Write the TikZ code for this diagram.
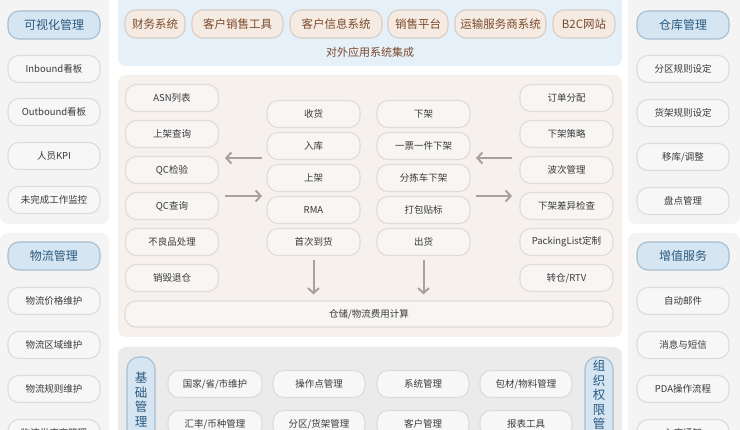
\documentclass[tikz,border=0pt]{standalone}
\usepackage{fontspec}
\setmainfont{Noto Sans CJK SC}
\usetikzlibrary{arrows.meta}
\definecolor{sidebg}{HTML}{F4F4F4}
\definecolor{topbg}{HTML}{E6F0F8}
\definecolor{mainbg}{HTML}{F6F1EC}
\definecolor{botbg}{HTML}{EBEBEB}
\definecolor{itemfill}{HTML}{F7F7F7}
\definecolor{itemdraw}{HTML}{DCDCDC}
\definecolor{mfill}{HTML}{F8F6F4}
\definecolor{mdraw}{HTML}{E0DBD6}
\definecolor{itemtext}{HTML}{3A3A3A}
\definecolor{hdrfill}{HTML}{D5E5F1}
\definecolor{hdrdraw}{HTML}{A7BDD0}
\definecolor{hdrtext}{HTML}{2C5A80}
\definecolor{extfill}{HTML}{F6EBE2}
\definecolor{extdraw}{HTML}{D6CDC5}
\definecolor{exttext}{HTML}{7A4A2C}
\definecolor{arrowgray}{HTML}{A8A29D}
\tikzset{
  panel/.style={rounded corners=8pt},
  box/.style={rounded corners=11pt, line width=1.1pt, inner sep=0pt, minimum height=27pt},
  item/.style={box, fill=itemfill, draw=itemdraw, text=itemtext, font=\fontsize{9.5}{11}\selectfont, minimum width=92pt},
  mitem/.style={box, fill=mfill, draw=mdraw, text=itemtext, font=\fontsize{9.5}{11}\selectfont, minimum width=93pt},
  hdr/.style={box, fill=hdrfill, draw=hdrdraw, text=hdrtext, font=\fontsize{12}{14}\selectfont, minimum width=92pt, minimum height=28pt},
  ext/.style={box, fill=extfill, draw=extdraw, text=exttext, font=\fontsize{11.5}{13}\selectfont, minimum height=28pt},
  vtab/.style={rounded corners=12pt, line width=1.1pt, fill=hdrfill, draw=hdrdraw},
  vtext/.style={text=hdrtext, font=\fontsize{12.5}{14.5}\selectfont, align=center, inner sep=0pt, anchor=north},
  flow/.style={draw=arrowgray, line width=2pt, -{Straight Barb[length=5pt,width=11pt]}}
}
\begin{document}
\begin{tikzpicture}[x=1pt,y=-1pt]
\useasboundingbox (0,0) rectangle (740,430);
\fill[white] (0,0) rectangle (740,430);
% panels
\fill[sidebg,panel] (0,-10) rectangle (109,224);
\fill[sidebg,panel] (0,233) rectangle (109,445);
\fill[sidebg,panel] (628,-10) rectangle (740,224);
\fill[sidebg,panel] (628,233) rectangle (740,445);
\fill[topbg,panel] (118,-10) rectangle (622,66);
\fill[mainbg,panel] (118,75) rectangle (622,337);
\fill[botbg,panel] (118,347) rectangle (622,445);

% left panel
\node[hdr] (vis) at (54,25) {可视化管理};
\node[item] (inb) at (54,69) {Inbound看板};
\node[item] (outb) at (54,112) {Outbound看板};
\node[item] (kpi) at (54,156) {人员KPI};
\node[item] (unf) at (54,200) {未完成工作监控};
\node[hdr] (log) at (54,256) {物流管理};
\node[item] (lp) at (54,301) {物流价格维护};
\node[item] (lz) at (54,345) {物流区域维护};
\node[item] (lr) at (54,389) {物流规则维护};
\node[item] (ls) at (54,433) {物流供应商管理};

% right panel
\node[hdr] (wh) at (683,25) {仓库管理};
\node[item] (zr) at (683,69) {分区规则设定};
\node[item] (sr) at (683,113) {货架规则设定};
\node[item] (mv) at (683,157) {移库/调整};
\node[item] (pd) at (683,201) {盘点管理};
\node[hdr] (vas) at (683,256) {增值服务};
\node[item] (am) at (683,301) {自动邮件};
\node[item] (ms) at (683,345) {消息与短信};
\node[item] (pda) at (683,389) {PDA操作流程};
\node[item] (ln) at (683,433) {入库通知};

% top panel
\node[ext, minimum width=60pt] (fin) at (155,24) {财务系统};
\node[ext, minimum width=91pt] (cst) at (237.5,24) {客户销售工具};
\node[ext, minimum width=92pt] (cis) at (336,24) {客户信息系统};
\node[ext, minimum width=60pt] (sal) at (418,24) {销售平台};
\node[ext, minimum width=91pt] (tsp) at (500.5,24) {运输服务商系统};
\node[ext, minimum width=62pt] (b2c) at (584,24) {B2C网站};
\node[text=exttext, font=\fontsize{11}{13}\selectfont, inner sep=0pt] (integ) at (370,52) {对外应用系统集成};

% main panel left column
\node[mitem] (asn) at (172,98) {ASN列表};
\node[mitem] (sjq) at (172,134) {上架查询};
\node[mitem] (qcj) at (172,170) {QC检验};
\node[mitem] (qcq) at (172,206) {QC查询};
\node[mitem] (blp) at (172,242) {不良品处理};
\node[mitem] (xh) at (172,278) {销毁退仓};
% middle columns
\node[mitem] (sh) at (313.5,114) {收货};
\node[mitem] (rk) at (313.5,146) {入库};
\node[mitem] (sj) at (313.5,178) {上架};
\node[mitem] (rma) at (313.5,210) {RMA};
\node[mitem] (sc) at (313.5,242) {首次到货};
\node[mitem] (xj) at (423.5,114) {下架};
\node[mitem] (yp) at (423.5,146) {一票一件下架};
\node[mitem] (fj) at (423.5,178) {分拣车下架};
\node[mitem] (db) at (423.5,210) {打包贴标};
\node[mitem] (ch) at (423.5,242) {出货};
% right column
\node[mitem] (ddfp) at (566.5,98) {订单分配};
\node[mitem] (xjcl) at (566.5,134) {下架策略};
\node[mitem] (bc) at (566.5,170) {波次管理};
\node[mitem] (xjcy) at (566.5,206) {下架差异检查};
\node[mitem] (pl) at (566.5,242) {PackingList定制};
\node[mitem] (zc) at (566.5,278) {转仓/RTV};
% fee bar
\node[mitem, minimum width=488pt, minimum height=26pt] (fee) at (369,314) {仓储/物流费用计算};

% arrows
\coordinate (l1s) at (262,158); \coordinate (l1e) at (225,158);
\coordinate (l2s) at (225,196); \coordinate (l2e) at (262,196);
\coordinate (r1s) at (512,158); \coordinate (r1e) at (476,158);
\coordinate (r2s) at (476,196); \coordinate (r2e) at (512,196);
\draw[flow] (l1s) -- (l1e);
\draw[flow] (l2s) -- (l2e);
\draw[flow] (r1s) -- (r1e);
\draw[flow] (r2s) -- (r2e);
\draw[flow, shorten <=4pt, shorten >=6pt] (sc.south) -- (sc.south |- fee.north);
\draw[flow, shorten <=4pt, shorten >=6pt] (ch.south) -- (ch.south |- fee.north);

% bottom panel
\draw[vtab] (127,357) rectangle (155,450);
\node[vtext] (jc) at (141,372) {基\\础\\管\\理};
\draw[vtab] (585,357) rectangle (613,450);
\node[vtext] (zz) at (599,360) {组\\织\\权\\限\\管\\理};
\node[item, minimum width=94pt] (gj) at (215,384) {国家/省/市维护};
\node[item, minimum width=94pt] (hl) at (215,424) {汇率/币种管理};
\node[item] (czd) at (319,384) {操作点管理};
\node[item] (fq) at (319,424) {分区/货架管理};
\node[item] (xt) at (423,384) {系统管理};
\node[item] (kh) at (423,424) {客户管理};
\node[item] (bcw) at (526,384) {包材/物料管理};
\node[item] (bb) at (526,424) {报表工具};
\end{tikzpicture}
\end{document}
